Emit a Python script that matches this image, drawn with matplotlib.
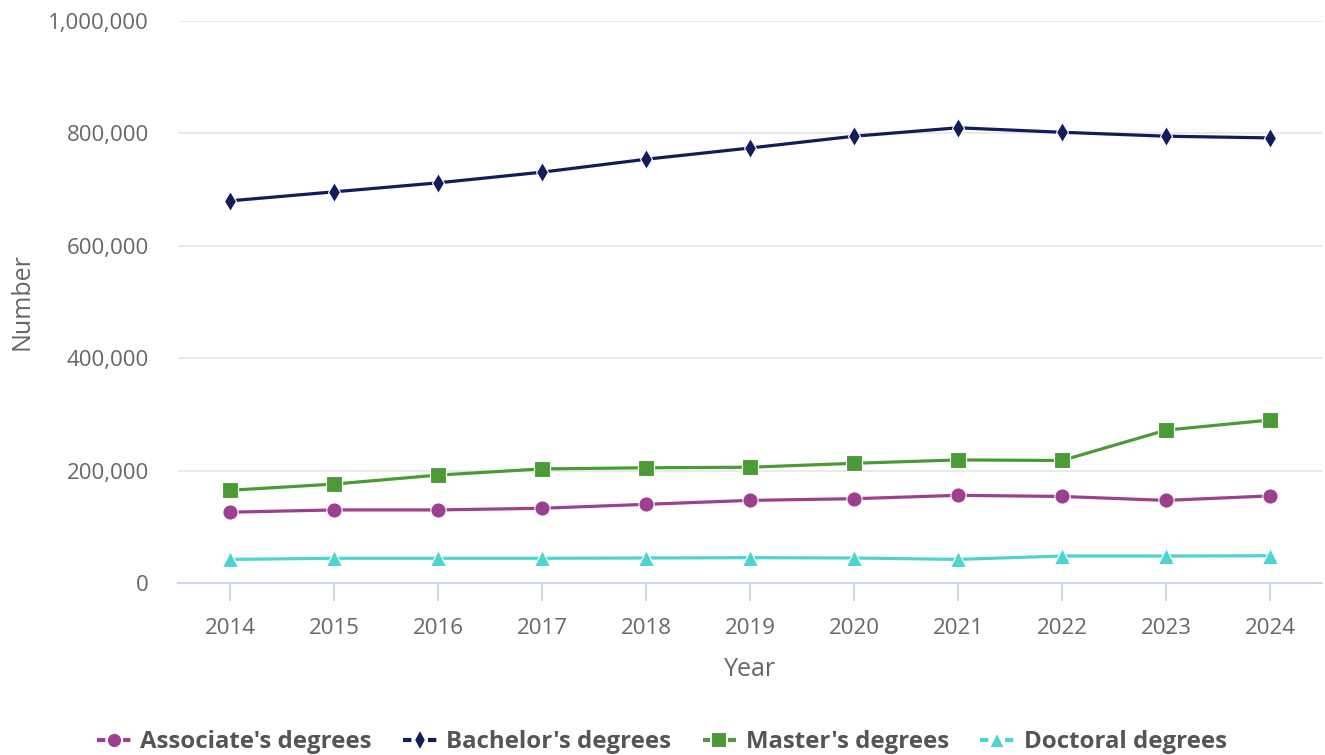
import numpy as np
import matplotlib.pyplot as plt
from matplotlib.ticker import FuncFormatter

plt.rcParams['font.family'] = ['Open Sans', 'DejaVu Sans']

years = [2014, 2015, 2016, 2017, 2018, 2019, 2020, 2021, 2022, 2023, 2024]
associate = [126000, 130000, 130000, 133000, 140000, 147000, 150000, 156000, 154000, 147000, 155000]
bachelor = [680000, 696000, 712000, 731000, 754000, 774000, 795000, 810000, 802000, 795000, 792000]
master = [165000, 176000, 192000, 203000, 205000, 206000, 213000, 219000, 218000, 272000, 290000]
doctoral = [42000, 44000, 44000, 44000, 44500, 45000, 44500, 42000, 48000, 48000, 48500]

series = [
    ("Associate's degrees", associate, '#9c3f8f', 'o', 11),
    ("Bachelor's degrees", bachelor, '#0f1d5a', 'd', 10),
    ("Master's degrees", master, '#4a9b35', 's', 11),
    ("Doctoral degrees", doctoral, '#4dd4d0', '^', 11),
]

fig = plt.figure(figsize=(13.25, 7.55), dpi=100)
ax = fig.add_axes([178 / 1325, 1 - 583 / 755, 1144 / 1325, 562 / 755])

for name, vals, col, mk, ms in series:
    ax.plot(years, vals, color=col, lw=2.3, marker=mk, markersize=ms,
            markeredgecolor='white', markeredgewidth=0.8, label=name, zorder=3)

ax.set_xlim(2013.5, 2024.5)
ax.set_ylim(0, 1000000)
ax.set_xticks(years)
ax.set_yticks(np.arange(0, 1000001, 200000))
ax.yaxis.set_major_formatter(FuncFormatter(lambda v, p: f'{int(v):,}'))

ax.grid(axis='y', color='#e6e6e6', lw=1.2, zorder=0)
for s in ['top', 'right', 'left']:
    ax.spines[s].set_visible(False)
ax.spines['bottom'].set_color('#ccd6eb')
ax.spines['bottom'].set_linewidth(1.5)
ax.tick_params(axis='x', colors='#ccd6eb', length=13, width=1.5, pad=12,
               labelcolor='#666666', labelsize=16)
ax.tick_params(axis='y', length=0, pad=21, labelcolor='#666666', labelsize=16)
ax.set_axisbelow(True)

ax.set_xlabel('Year', color='#666666', fontsize=18, labelpad=13)
ax.set_ylabel('Number', color='#666666', fontsize=18, labelpad=10)

leg = fig.legend(loc='center', bbox_to_anchor=(0.4995, 1 - 742 / 755), ncol=4,
                 frameon=False, handlelength=1.4, columnspacing=1.3,
                 prop={'weight': 'bold', 'size': 17.3}, labelcolor='#555555',
                 handletextpad=0.4)
for h in leg.legend_handles:
    h.set_linewidth(3)
    h.set_linestyle((0, (2.0, 1.0)))
    h.set_markersize(11)
    h.set_markeredgewidth(1.5)

fig.savefig('out.png', dpi=100)
